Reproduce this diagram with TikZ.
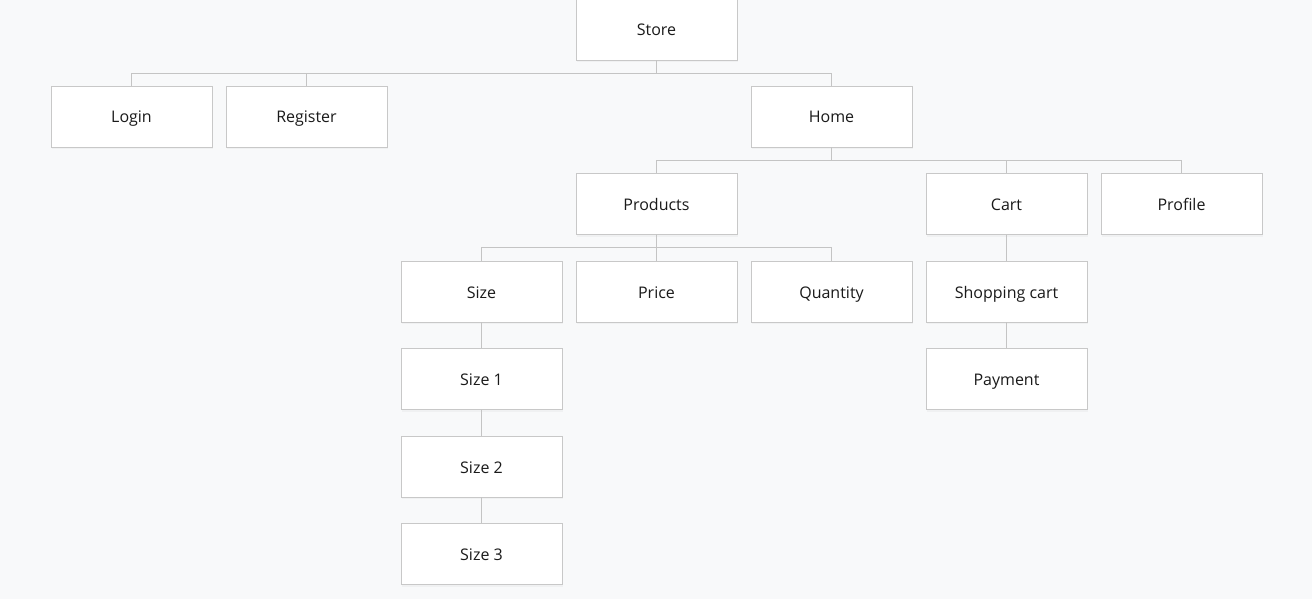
\documentclass[tikz,border=0pt]{standalone}
\usepackage{fontspec}
\setmainfont{Open Sans}
\usepackage{tikz}
\usepackage{xcolor}
\usetikzlibrary{positioning, shadows}

\definecolor{pagebg}{HTML}{F8F9FA}
\definecolor{boxline}{HTML}{C8C8C8}
\definecolor{linkline}{HTML}{C4C4C4}
\definecolor{textcol}{HTML}{1A1A1A}

\begin{document}
\begin{tikzpicture}[
    x=1pt, y=-1pt,
    page/.style={rectangle, draw=boxline, fill=white, minimum width=161pt, minimum height=61pt, inner sep=0pt, text height=13pt, text depth=0pt, align=center, text=textcol, font=\fontsize{16}{19}\selectfont, drop shadow={opacity=0.06, shadow xshift=1pt, shadow yshift=-2pt}},
    link/.style={draw=linkline, line width=0.9pt}
]

% Fondo
\fill[pagebg] (0,0) rectangle (1312,599);
\useasboundingbox (0,0) rectangle (1312,599);

% Nivel superior
\node[page] (store) at (656.5,29.5) {Store};

\node[page] (login) at (131.5,116.5) {Login};
\node[page] (register) at (306.5,116.5) {Register};
\node[page] (home) at (831.5,116.5) {Home};

% Secciones de Home
\node[page] (products) at (656.5,204) {Products};
\node[page] (cart) at (1006.5,204) {Cart};
\node[page] (profile) at (1181.5,204) {Profile};

% Detalle de productos y carrito
\node[page] (size) at (481.5,291.5) {Size};
\node[page] (price) at (656.5,291.5) {Price};
\node[page] (quantity) at (831.5,291.5) {Quantity};
\node[page] (shopcart) at (1006.5,291.5) {Shopping cart};

\node[page] (size1) at (481.5,379) {Size 1};
\node[page] (payment) at (1006.5,379) {Payment};
\node[page] (size2) at (481.5,466.5) {Size 2};
\node[page] (size3) at (481.5,554) {Size 3};

% Conexiones
\draw[link] (store.south) -- ++(0,13) -| (login.north);
\draw[link] (store.south) -- ++(0,13) -| (register.north);
\draw[link] (store.south) -- ++(0,13) -| (home.north);

\draw[link] (home.south) -- ++(0,13) -| (products.north);
\draw[link] (home.south) -- ++(0,13) -| (cart.north);
\draw[link] (home.south) -- ++(0,13) -| (profile.north);

\draw[link] (products.south) -- ++(0,13) -| (size.north);
\draw[link] (products.south) -- ++(0,13) -| (price.north);
\draw[link] (products.south) -- ++(0,13) -| (quantity.north);

\draw[link] (cart.south) -- (shopcart.north);
\draw[link] (shopcart.south) -- (payment.north);

\draw[link] (size.south) -- (size1.north);
\draw[link] (size1.south) -- (size2.north);
\draw[link] (size2.south) -- (size3.north);

\end{tikzpicture}
\end{document}
